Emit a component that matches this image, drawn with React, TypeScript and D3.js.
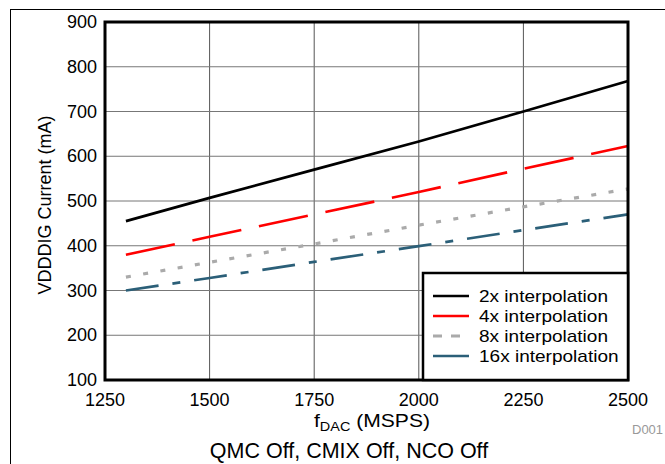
import React from "react";
import * as d3 from "d3";

const xTicks = [1250, 1500, 1750, 2000, 2250, 2500];
const yTicks = [100, 200, 300, 400, 500, 600, 700, 800, 900];
const fDac = [1300, 1500, 1750, 2000, 2250, 2500];
const s2x = [455, 507, 570, 633, 700, 768];
const s4x = [380, 420, 470, 520, 572, 623];
const s8x = [330, 363, 404, 446, 487, 527];
const s16x = [300, 328, 364, 399, 435, 470];
const seriesNames = ["2x interpolation", "4x interpolation", "8x interpolation", "16x interpolation"];

const styles = [
  { color: "#000000", dash: "", width: 2.7 },
  { color: "#ff0000", dash: "50 18", width: 2.7 },
  { color: "#aaaaaa", dash: "5 12.5", width: 3.2 },
  { color: "#2b5f78", dash: "33 14 8 14", width: 2.7 },
];
const legendDash = ["", "", "9 9", ""];

export default function App() {
  const L = 105, R = 628, T = 22, B = 380;
  const x = d3.scaleLinear().domain([1250, 2500]).range([L, R]);
  const y = d3.scaleLinear().domain([100, 900]).range([B, T]);
  const allSeries = [s2x, s4x, s8x, s16x];
  const line = d3.line<number>().x((_, i) => x(fDac[i])).y((d) => y(d));
  const font = "'Liberation Sans', Arial, sans-serif";
  return (
    <svg width={665} height={464} style={{ position: "absolute", left: 0, top: 0 }} fontFamily={font}>
      <rect width={665} height={464} fill="#fff" />
      <line x1={10} y1={9.5} x2={665} y2={9.5} stroke="#000" strokeWidth={1} />
      <line x1={10.5} y1={9} x2={10.5} y2={464} stroke="#000" strokeWidth={1} />
      {xTicks.slice(1, -1).map((t) => (
        <line key={"gx" + t} x1={x(t)} x2={x(t)} y1={T} y2={B} stroke="#555" strokeWidth={1} />
      ))}
      {yTicks.slice(1, -1).map((t) => (
        <line key={"gy" + t} x1={L} x2={R} y1={y(t)} y2={y(t)} stroke="#777" strokeWidth={1} />
      ))}
      {allSeries.map((s, i) => (
        <path key={"s" + i} d={line(s) || ""} fill="none" stroke={styles[i].color}
          strokeWidth={styles[i].width} strokeDasharray={styles[i].dash} />
      ))}
      <rect x={L} y={T} width={R - L} height={B - T} fill="none" stroke="#000" strokeWidth={3} />
      {yTicks.map((t) => (
        <text key={"yt" + t} x={97} y={y(t) + 6} textAnchor="end" fontSize={18} fill="#000">{t}</text>
      ))}
      {xTicks.map((t) => (
        <text key={"xt" + t} x={x(t)} y={406} textAnchor="middle" fontSize={18} fill="#000">{t}</text>
      ))}
      <text transform={`translate(51,205) rotate(-90)`} textAnchor="middle" fontSize={18} fill="#000">
        VDDDIG Current (mA)
      </text>
      <text x={314} y={427} fontSize={19} fill="#000" textLength={116} lengthAdjust="spacingAndGlyphs">
        f<tspan fontSize={13} dy={4}>DAC</tspan><tspan dy={-4}> (MSPS)</tspan>
      </text>
      <text x={349} y={458} textAnchor="middle" fontSize={21.5} fill="#000">QMC Off, CMIX Off, NCO Off</text>
      <text x={632} y={434} fontSize={13} fill="#999">D001</text>
      <rect x={423} y={273} width={R - 423} height={B - 273} fill="#fff" stroke="#000" strokeWidth={2.5} />
      {seriesNames.map((n, i) => {
        const yy = 296 + i * 20;
        return (
          <g key={"lg" + i}>
            <line x1={433} x2={469} y1={yy} y2={yy} stroke={styles[i].color}
              strokeWidth={styles[i].width} strokeDasharray={legendDash[i]} />
            <text transform={`translate(479,${yy + 6}) scale(1.12,1)`} fontSize={17} fill="#000">{n}</text>
          </g>
        );
      })}
    </svg>
  );
}
